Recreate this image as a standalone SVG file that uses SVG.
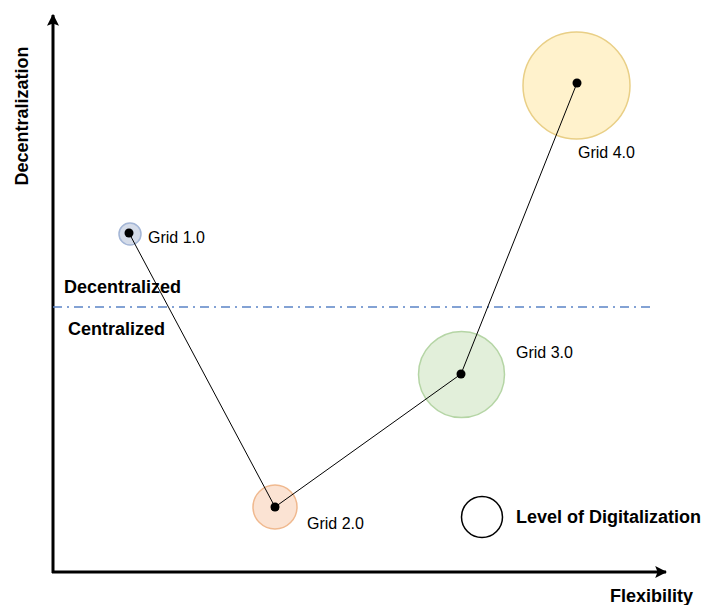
<svg xmlns="http://www.w3.org/2000/svg" width="703" height="605" viewBox="0 0 703 605">
  <style>
    .lbl { font-family: "Liberation Sans", Arial, sans-serif; font-size: 16px; fill: #000; }
    .bold { font-family: "Liberation Sans", Arial, sans-serif; font-size: 18px; font-weight: bold; fill: #000; }
    .axis { stroke: #000; stroke-width: 3; fill: none; }
    .link { stroke: #000; stroke-width: 1; fill: none; }
    .dot { fill: #000; }
  </style>
  <defs>
    <marker id="arrow" viewBox="0 0 10 10" refX="9" refY="5" markerWidth="4" markerHeight="4" orient="auto" markerUnits="strokeWidth">
      <path d="M0,0 L10,5 L0,10 L2,5 Z" fill="#000"/>
    </marker>
  </defs>
  <rect width="703" height="605" fill="#fff"/>

  <!-- axes -->
  <g id="axes">
    <path class="axis" d="M53,573 L53,15" marker-end="url(#arrow)"/>
    <path class="axis" d="M52,572 L666,572" marker-end="url(#arrow)"/>
    <text class="bold" transform="translate(28,116) rotate(-90)" text-anchor="middle">Decentralization</text>
    <text class="bold" x="610" y="602">Flexibility</text>
  </g>

  <!-- region divider -->
  <g id="divider">
    <line x1="53" y1="307" x2="655" y2="307" stroke="#5b84c6" stroke-width="1.5" stroke-dasharray="9,5,2,5"/>
    <text class="bold" x="64" y="293">Decentralized</text>
    <text class="bold" x="68" y="335">Centralized</text>
  </g>

  <!-- circles -->
  <g id="grid1">
    <circle cx="130" cy="234" r="11" fill="#d5dce9" stroke="#a4b6d6" stroke-width="1.5"/>
  </g>
  <g id="grid2">
    <circle cx="275" cy="507" r="22" fill="#fbe3d3" stroke="#f0b98f" stroke-width="1.5"/>
  </g>
  <g id="grid3">
    <circle cx="461.5" cy="374.5" r="43" fill="#e2efda" stroke="#b5d5a5" stroke-width="1.5"/>
  </g>
  <g id="grid4">
    <circle cx="576.5" cy="85.5" r="53.5" fill="#fff2cc" stroke="#e9cf86" stroke-width="1.5"/>
  </g>

  <!-- connectors -->
  <g id="connectors">
    <polyline class="link" points="129,233 275,507 461,374 577,83"/>
  </g>

  <g id="points">
    <circle class="dot" cx="129" cy="233" r="4.5"/>
    <circle class="dot" cx="275" cy="507" r="4.5"/>
    <circle class="dot" cx="461" cy="374" r="4.5"/>
    <circle class="dot" cx="577" cy="83" r="4.5"/>
  </g>

  <g id="labels">
    <text class="lbl" x="148" y="243">Grid 1.0</text>
    <text class="lbl" x="307" y="529">Grid 2.0</text>
    <text class="lbl" x="516" y="358">Grid 3.0</text>
    <text class="lbl" x="578" y="158">Grid 4.0</text>
  </g>

  <!-- legend -->
  <g id="legend">
    <circle cx="482" cy="517" r="20.5" fill="#fff" stroke="#000" stroke-width="1.5"/>
    <text class="bold" x="516" y="523">Level of Digitalization</text>
  </g>
</svg>
